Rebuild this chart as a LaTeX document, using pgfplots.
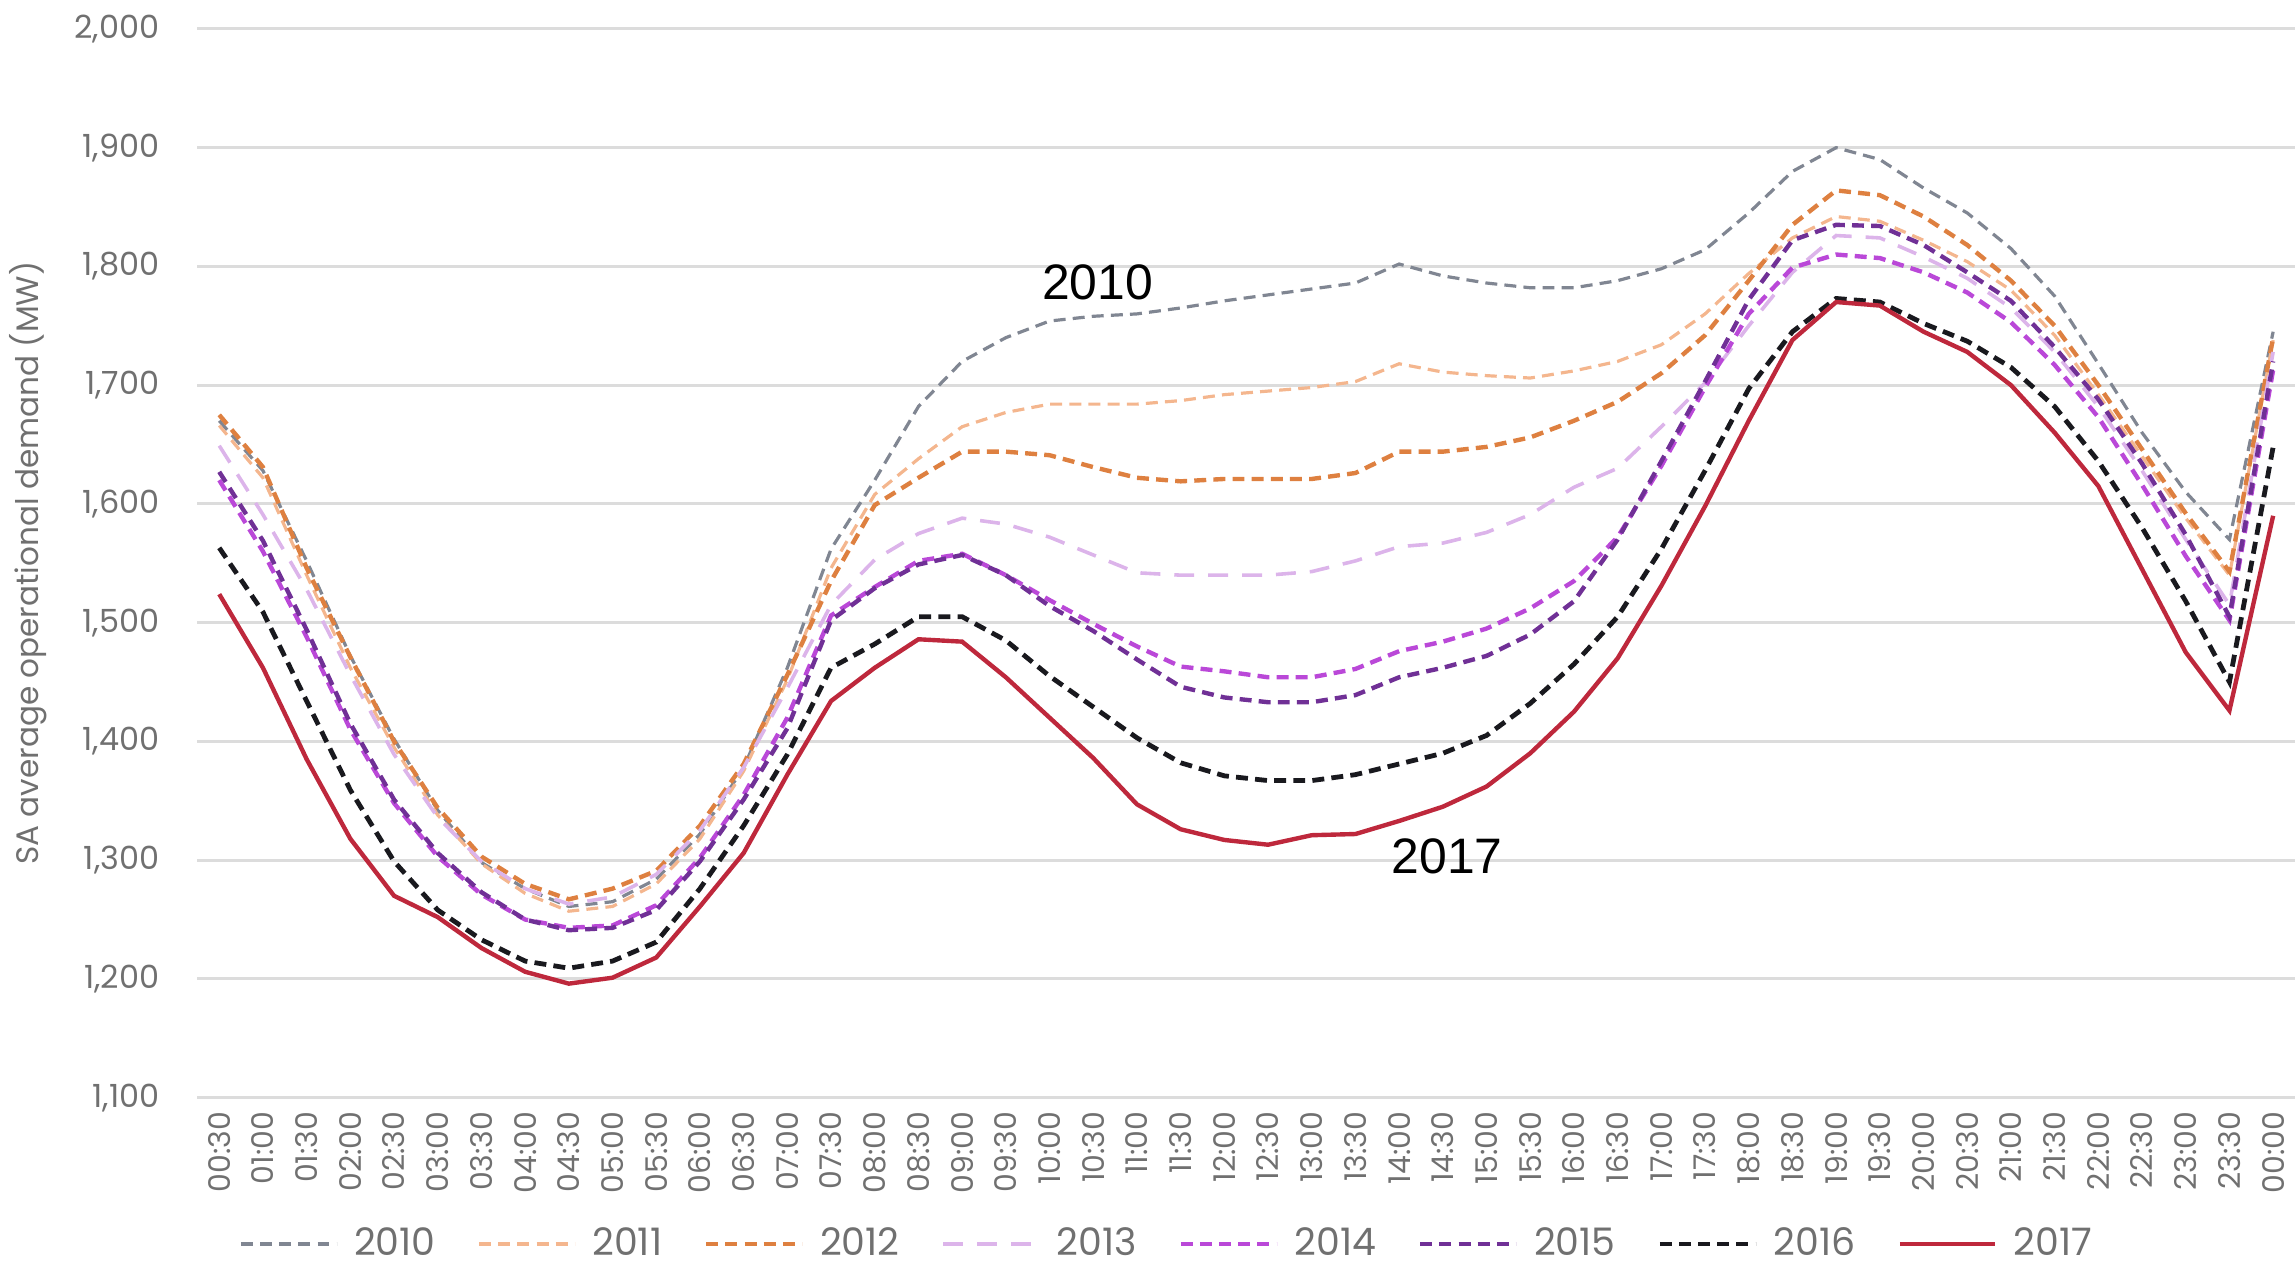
\documentclass[border=0pt]{standalone}
\usepackage{pgfplots}
\usepackage{pgfplotstable}
\usepackage{fontspec}
\pgfplotsset{compat=1.18}
\usetikzlibrary{calc}
\setmainfont{Poppins}
\newfontfamily\arialfont{Liberation Sans}

\definecolor{c2010}{RGB}{128,134,146}
\definecolor{c2011}{RGB}{244,182,142}
\definecolor{c2012}{RGB}{222,128,64}
\definecolor{c2013}{RGB}{220,180,234}
\definecolor{c2014}{RGB}{186,72,216}
\definecolor{c2015}{RGB}{112,48,150}
\definecolor{c2016}{RGB}{25,25,30}
\definecolor{c2017}{RGB}{190,40,60}
\definecolor{gridc}{RGB}{220,220,220}
\definecolor{txt}{RGB}{112,112,112}

% half-hourly average demand, MW (t = 0 is 00:30, t = 47 is 00:00)
\pgfplotstableread{
t  a2010 a2011 a2012 a2013 a2014 a2015 a2016 a2017
0  1670  1666  1675  1649  1620  1627  1563  1524
1  1628  1622  1631  1591  1560  1569  1509  1462
2  1552  1540  1546  1528  1488  1494  1434  1385
3  1472  1462  1471  1456  1410  1415  1359  1318
4  1402  1395  1400  1389  1348  1351  1299  1270
5  1342  1338  1344  1336  1303  1306  1258  1252
6  1298  1297  1303  1299  1271  1273  1233  1226
7  1276  1272  1280  1276  1250  1250  1215  1206
8  1261  1257  1267  1263  1243  1241  1209  1196
9  1265  1261  1276  1269  1245  1243  1215  1201
10 1284  1280  1291  1288  1262  1258  1231  1218
11 1322  1318  1329  1325  1302  1299  1276  1261
12 1378  1375  1381  1378  1355  1351  1329  1306
13 1462  1452  1456  1445  1420  1411  1389  1372
14 1562  1546  1535  1515  1506  1502  1462  1434
15 1620  1608  1599  1553  1530  1529  1482  1462
16 1682  1638  1622  1575  1552  1549  1505  1486
17 1720  1665  1644  1588  1558  1557  1505  1484
18 1740  1677  1644  1583  1540  1540  1485  1454
19 1754  1684  1641  1572  1519  1514  1455  1420
20 1758  1684  1631  1557  1499  1493  1429  1386
21 1760  1684  1622  1542  1480  1469  1403  1347
22 1765  1687  1619  1540  1463  1446  1382  1326
23 1771  1692  1621  1540  1459  1437  1371  1317
24 1776  1695  1621  1540  1454  1433  1367  1313
25 1781  1698  1621  1543  1454  1433  1367  1321
26 1786  1703  1626  1552  1461  1439  1372  1322
27 1802  1718  1644  1564  1476  1454  1381  1333
28 1792  1711  1644  1567  1484  1462  1390  1345
29 1786  1708  1648  1576  1495  1472  1405  1362
30 1782  1706  1656  1591  1512  1490  1432  1390
31 1782  1712  1670  1614  1535  1518  1465  1425
32 1788  1720  1686  1630  1572  1570  1505  1470
33 1798  1734  1710  1665  1632  1636  1562  1531
34 1814  1760  1742  1702  1698  1703  1628  1598
35 1845  1794  1788  1750  1760  1772  1697  1670
36 1880  1824  1835  1795  1799  1822  1745  1738
37 1900  1842  1864  1826  1810  1835  1773  1770
38 1890  1838  1860  1824  1807  1834  1770  1767
39 1866  1822  1842  1808  1795  1818  1752  1745
40 1845  1804  1818  1790  1778  1795  1737  1728
41 1815  1780  1788  1765  1753  1771  1715  1700
42 1775  1742  1750  1728  1717  1732  1682  1660
43 1718  1692  1700  1682  1673  1688  1636  1615
44 1660  1640  1646  1628  1616  1634  1580  1545
45 1610  1588  1592  1570  1556  1574  1518  1475
46 1570  1540  1543  1515  1502  1505  1450  1426
47 1745  1738  1740  1728  1713  1720  1648  1590
}\demand

\begin{document}
\begin{tikzpicture}
\begin{axis}[
  scale only axis,
  width=526pt, height=268pt,
  xmin=-0.5, xmax=47.5,
  ymin=1100, ymax=2000,
  ytick={1100,1200,...,2000},
  ymajorgrids,
  major grid style={gridc, line width=0.8pt},
  axis line style={draw=none},
  major tick length=0pt,
  xtick={0,...,47},
  xticklabels={00:30,01:00,01:30,02:00,02:30,03:00,03:30,04:00,04:30,05:00,05:30,06:00,06:30,07:00,07:30,08:00,08:30,09:00,09:30,10:00,10:30,11:00,11:30,12:00,12:30,13:00,13:30,14:00,14:30,15:00,15:30,16:00,16:30,17:00,17:30,18:00,18:30,19:00,19:30,20:00,20:30,21:00,21:30,22:00,22:30,23:00,23:30,00:00},
  x tick label style={rotate=90, anchor=east, font=\fontsize{7.5}{8}\selectfont, text=txt},
  y tick label style={font=\fontsize{8}{9}\selectfont, text=txt, xshift=-6pt},
  /pgf/number format/1000 sep={,},
  /pgf/number format/assume math mode=true,
  ylabel={SA average operational demand (MW)},
  ylabel style={font=\fontsize{7.8}{9}\selectfont, text=txt},
  legend columns=8,
  legend style={draw=none, fill=none, inner sep=0pt, outer sep=0pt,
    at={(0.02,-0.137)}, anchor=west,
    font=\fontsize{9.5}{10}\selectfont, text=txt,
    /tikz/every even column/.append style={column sep=8.5pt},
    /tikz/every odd column/.append style={column sep=2pt}},
  legend image code/.code={\draw[#1] (0pt,0pt) -- (24pt,0pt);},
]
\addplot[c2010, line width=0.8pt, dash pattern=on 3pt off 1.8pt] table[x=t, y=a2010] {\demand};
\addlegendentry{2010}
\addplot[c2011, line width=0.8pt, dash pattern=on 3pt off 1.8pt] table[x=t, y=a2011] {\demand};
\addlegendentry{2011}
\addplot[c2012, line width=1.1pt, dash pattern=on 3pt off 1.8pt] table[x=t, y=a2012] {\demand};
\addlegendentry{2012}
\addplot[c2013, line width=0.9pt, dash pattern=on 5pt off 3.5pt] table[x=t, y=a2013] {\demand};
\addlegendentry{2013}
\addplot[c2014, line width=1.1pt, dash pattern=on 3pt off 1.8pt] table[x=t, y=a2014] {\demand};
\addlegendentry{2014}
\addplot[c2015, line width=1.1pt, dash pattern=on 3pt off 1.8pt] table[x=t, y=a2015] {\demand};
\addlegendentry{2015}
\addplot[c2016, line width=1.2pt, dash pattern=on 3pt off 1.8pt] table[x=t, y=a2016] {\demand};
\addlegendentry{2016}
\addplot[c2017, line width=1.1pt] table[x=t, y=a2017] {\demand};
\addlegendentry{2017}
\node[font=\arialfont\fontsize{12.5}{14}\selectfont, text=black] at (axis cs:20.1,1787) {2010};
\node[font=\arialfont\fontsize{12.5}{14}\selectfont, text=black] at (axis cs:28.1,1303) {2017};
\end{axis}
\pgfresetboundingbox
\path[use as bounding box]
  ($(current axis.south west)+(-49.5pt,-43pt)$)
  rectangle ($(current axis.north east)+(0pt,7.25pt)$);
\end{tikzpicture}
\end{document}
